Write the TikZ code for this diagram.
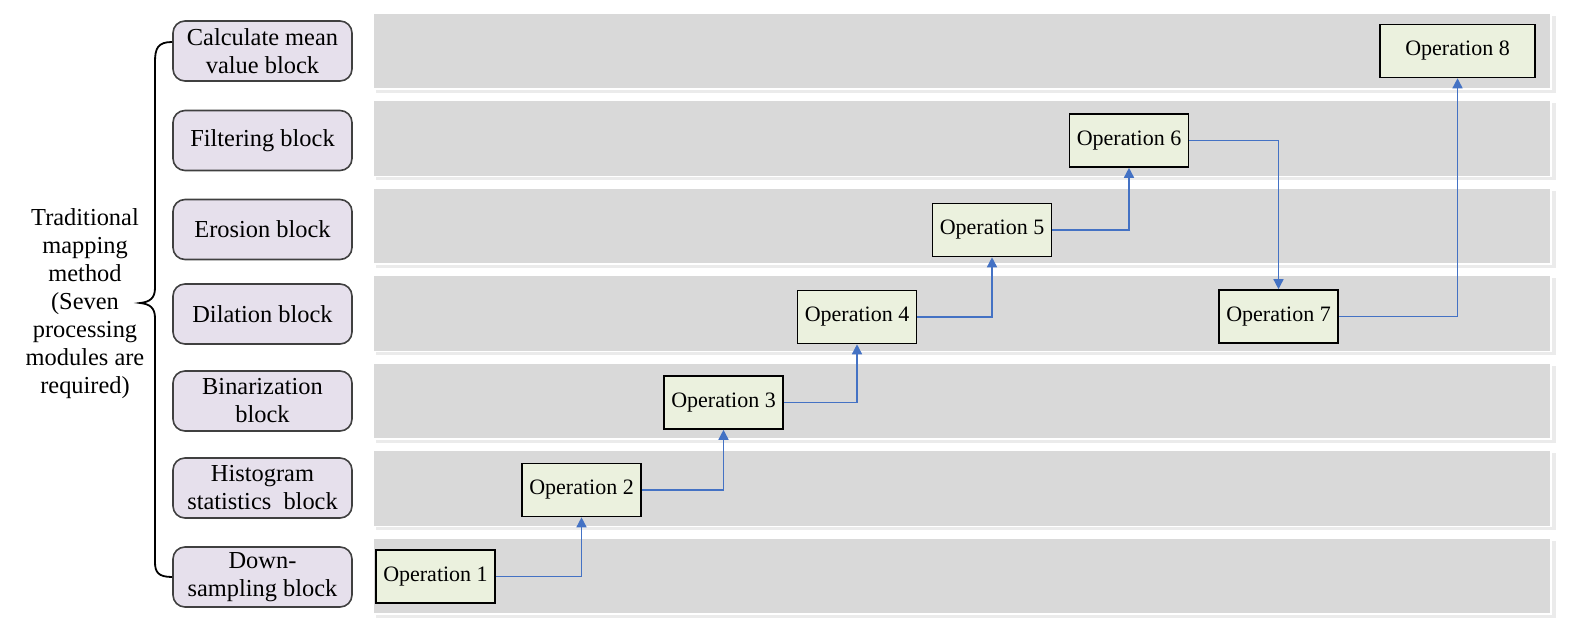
\documentclass[tikz,border=0pt]{standalone}
\usepackage{fontspec}
\setmainfont{Liberation Serif}
\usetikzlibrary{arrows.meta}
\definecolor{lanegray}{HTML}{D9D9D9}
\definecolor{laneshadow}{HTML}{EBEBEB}
\definecolor{blockfill}{HTML}{E6E0EC}
\definecolor{blockdraw}{HTML}{404040}
\definecolor{opfill}{HTML}{EBF1DE}
\definecolor{flowblue}{HTML}{4472C4}
\tikzset{
  lane/.style={fill=lanegray, draw=white, line width=0.6pt},
  laneshade/.style={fill=laneshadow, draw=none},
  blockbox/.style={draw=blockdraw, fill=blockfill, rounded corners=6pt, line width=0.8pt,
    minimum width=89.5pt, minimum height=30pt, inner sep=1pt, align=center,
    font=\fontsize{12.2pt}{14pt}\selectfont},
  opbox/.style={draw=black, fill=opfill, line width=0.8pt,
    minimum width=59.5pt, minimum height=26.5pt, inner sep=1pt,
    font=\fontsize{11pt}{13pt}\selectfont},
  flow/.style={draw=flowblue, line width=0.75pt, -{Triangle[length=5pt,width=5pt]}},
}
\begin{document}
\begin{tikzpicture}[x=0.5pt,y=-0.5pt]
\useasboundingbox (0,0) rectangle (1590,624);
% lanes
\foreach \k in {0,...,6}{
  \pgfmathsetmacro{\t}{13+87.5*\k}
  \fill[laneshade] (376,\t+3) rectangle (1556,\t+80);
  \path[lane] (373,\t) rectangle (1551,\t+76);
}
% left blocks
\node[blockbox] (b1) at (262.5,51) {Calculate mean\\value block};
\node[blockbox] (b2) at (262.5,140.5) {Filtering block};
\node[blockbox] (b3) at (262.5,229.5) {Erosion block};
\node[blockbox] (b4) at (262.5,314) {Dilation block};
\node[blockbox] (b5) at (262.5,401) {Binarization\\block};
\node[blockbox] (b6) at (262.5,488) {Histogram\\statistics\ \ block};
\node[blockbox] (b7) at (262.5,577) {Down-\\sampling block};
% brace
\coordinate (btop) at (b1.west |- 0,42);
\coordinate (bbot) at (b7.west);
\draw[line width=0.9pt, black] (btop) .. controls (158,42) and (155,48) .. (155,62)
  -- (155,288) .. controls (155,298) and (150,302) .. (140,303)
  .. controls (150,304) and (155,308) .. (155,318)
  -- (155,562) .. controls (155,572) and (158,577) .. (bbot);
\node[align=center, font=\fontsize{12.2pt}{14pt}\selectfont] (brtext) at (85,304)
  {Traditional\\mapping\\method\\(Seven\\processing\\modules are\\required)};
% operations
\node[opbox] (o1) at (435.5,576.5) {Operation 1};
\node[opbox] (o2) at (581.5,490) {Operation 2};
\node[opbox] (o3) at (723.5,402.5) {Operation 3};
\node[opbox] (o4) at (857,317) {Operation 4};
\node[opbox] (o5) at (992,230) {Operation 5};
\node[opbox] (o6) at (1129,140.5) {Operation 6};
\node[opbox] (o7) at (1278.5,316.5) {Operation 7};
\node[opbox, minimum width=77.5pt] (o8) at (1457.5,51) {Operation 8};
% flows
\draw[flow] (o1.east) -| (o2.south);
\draw[flow] (o2.east) -| (o3.south);
\draw[flow] (o3.east) -| (o4.south);
\draw[flow] (o4.east) -| (o5.south);
\draw[flow] (o5.east) -| (o6.south);
\draw[flow] (o6.east) -| (o7.north);
\draw[flow] (o7.east) -| (o8.south);
\end{tikzpicture}
\end{document}
